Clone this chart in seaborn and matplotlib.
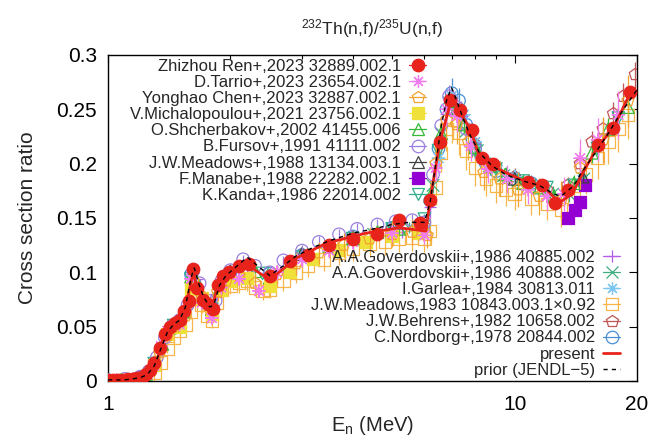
import matplotlib
matplotlib.use("Agg")
import matplotlib.pyplot as plt
import seaborn as sns
from matplotlib.lines import Line2D
from matplotlib.ticker import FixedLocator, FixedFormatter, NullFormatter

# ---------------- data ----------------
ren_E = [1.00, 1.03, 1.06, 1.09, 1.12, 1.15, 1.18, 1.21, 1.24, 1.27, 1.30, 1.34, 1.38, 1.42, 1.46,
         1.50, 1.54, 1.58, 1.62, 1.66, 1.71, 1.76, 1.81, 1.86, 1.92, 1.98, 2.10, 2.22, 2.50, 2.80,
         3.10, 3.50, 4.00, 4.60, 5.20, 5.85, 6.20, 6.55, 6.95, 7.35, 7.85, 8.30, 8.85, 10.8, 11.7,
         12.6, 13.5, 16.0, 17.5, 19.2]
ren_y = [0.001, 0.001, 0.001, 0.001, 0.002, 0.002, 0.003, 0.004, 0.006, 0.010, 0.017, 0.030, 0.043, 0.050, 0.053,
         0.056, 0.064, 0.074, 0.103, 0.086, 0.075, 0.071, 0.066, 0.088, 0.097, 0.100, 0.106, 0.108, 0.097, 0.110,
         0.116, 0.125, 0.131, 0.135, 0.148, 0.145, 0.167, 0.220, 0.259, 0.249, 0.231, 0.205, 0.200, 0.183, 0.180,
         0.164, 0.176, 0.217, 0.233, 0.266]

tarrio_E = [1.05, 1.15, 1.25, 1.3, 1.35, 1.4, 1.5, 1.6, 1.7, 1.8, 1.9, 2.1, 2.35, 2.6, 3.0,
            3.5, 4.0, 5.0, 6.0, 6.4, 6.8, 7.2, 7.8, 8.6, 9.6, 10.8, 12.0, 13.2, 14.5, 16.0, 18.0]
tarrio_y = [0.001, 0.002, 0.006, 0.014, 0.032, 0.046, 0.052, 0.094, 0.072, 0.058, 0.086, 0.094, 0.083, 0.100, 0.112,
            0.120, 0.128, 0.136, 0.134, 0.196, 0.250, 0.244, 0.216, 0.195, 0.186, 0.176, 0.170, 0.172, 0.205, 0.222, 0.245]
tarrio_err = [0.001, 0.001, 0.002, 0.003, 0.004, 0.004, 0.004, 0.006, 0.005, 0.005, 0.006, 0.006, 0.006, 0.007, 0.007,
              0.007, 0.008, 0.008, 0.008, 0.012, 0.015, 0.015, 0.014, 0.013, 0.013, 0.013, 0.014, 0.016, 0.018, 0.020, 0.022]

chen_E = [1.02, 1.12, 1.22, 1.28, 1.34, 1.4, 1.46, 1.55, 1.62, 1.7, 1.78, 1.86, 1.95, 2.1, 2.3,
          2.6, 2.9, 3.3, 3.8, 4.4, 5.0, 5.6, 6.1, 6.4, 6.8, 7.2, 7.7, 8.4, 9.2, 10.2, 11.5, 13.0, 14.5, 16.5, 19.0]
chen_y = [0.000, 0.001, 0.004, 0.010, 0.026, 0.042, 0.050, 0.060, 0.092, 0.078, 0.066, 0.082, 0.092, 0.097, 0.090,
          0.098, 0.108, 0.118, 0.125, 0.131, 0.135, 0.137, 0.134, 0.200, 0.240, 0.236, 0.220, 0.192, 0.186, 0.176,
          0.170, 0.166, 0.196, 0.222, 0.258]
chen_err = [0.001, 0.001, 0.002, 0.003, 0.004, 0.005, 0.005, 0.006, 0.008, 0.007, 0.007, 0.008, 0.008, 0.009, 0.009,
            0.009, 0.010, 0.010, 0.011, 0.011, 0.012, 0.012, 0.012, 0.016, 0.018, 0.018, 0.017, 0.016, 0.016, 0.016,
            0.017, 0.018, 0.019, 0.021, 0.024]

mich_E = [1.3, 1.4, 1.5, 1.6, 1.7, 1.8, 1.9, 2.0, 2.2, 2.5, 2.8, 3.2, 3.7, 4.3, 5.0, 5.8]
mich_y = [0.015, 0.043, 0.050, 0.085, 0.076, 0.062, 0.084, 0.092, 0.095, 0.087, 0.100, 0.112, 0.121, 0.128, 0.133, 0.136]

shch_E = [1.0, 1.08, 1.16, 1.24, 1.3, 1.36, 1.42, 1.48, 1.54, 1.6, 1.65, 1.72, 1.8, 1.88, 1.96,
          2.1, 2.3, 2.5, 2.8, 3.1, 3.5, 4.0, 4.6, 5.2, 5.8, 6.2, 6.6, 7.0, 7.5, 8.0,
          8.7, 9.5, 10.5, 11.5, 12.5, 14.0, 15.5, 17.0, 19.0]
shch_y = [0.001, 0.001, 0.002, 0.006, 0.015, 0.034, 0.049, 0.053, 0.064, 0.096, 0.092, 0.076, 0.066, 0.085, 0.096,
          0.102, 0.101, 0.095, 0.107, 0.116, 0.124, 0.131, 0.137, 0.140, 0.140, 0.170, 0.228, 0.252, 0.236, 0.215,
          0.198, 0.190, 0.182, 0.178, 0.170, 0.182, 0.210, 0.232, 0.252]
shch_err = [0.001, 0.001, 0.001, 0.002, 0.002, 0.003, 0.003, 0.003, 0.003, 0.004, 0.004, 0.003, 0.003, 0.003, 0.004,
            0.004, 0.004, 0.004, 0.004, 0.004, 0.004, 0.005, 0.005, 0.005, 0.005, 0.006, 0.008, 0.009, 0.008, 0.008,
            0.007, 0.007, 0.007, 0.007, 0.007, 0.008, 0.009, 0.010, 0.011]

fursov_E = [1.0, 1.1, 1.2, 1.26, 1.32, 1.38, 1.44, 1.5, 1.57, 1.62, 1.68, 1.76, 1.84, 1.9, 2.0,
            2.15, 2.3, 2.5, 2.7, 3.0, 3.3, 3.7, 4.1, 4.6, 5.1, 5.6, 6.0, 6.3, 6.6, 6.9, 7.2, 7.6, 8.0]
fursov_y = [0.001, 0.002, 0.004, 0.009, 0.022, 0.040, 0.051, 0.056, 0.070, 0.101, 0.090, 0.074, 0.074, 0.092, 0.102,
            0.112, 0.106, 0.100, 0.111, 0.120, 0.128, 0.135, 0.140, 0.144, 0.147, 0.148, 0.146, 0.190, 0.235, 0.262,
            0.252, 0.232, 0.214]
fursov_err = [0.001, 0.001, 0.001, 0.002, 0.002, 0.003, 0.003, 0.003, 0.003, 0.004, 0.004, 0.003, 0.003, 0.004, 0.004,
              0.004, 0.004, 0.004, 0.004, 0.005, 0.005, 0.005, 0.005, 0.005, 0.006, 0.006, 0.006, 0.008, 0.009, 0.010,
              0.010, 0.009, 0.009]

mead88_E = [1.5, 2.0, 3.0, 5.0, 7.0, 10.0, 14.7]
mead88_y = [0.054, 0.101, 0.117, 0.139, 0.258, 0.186, 0.188]
mead88_err = [0.002, 0.003, 0.003, 0.004, 0.006, 0.005, 0.005]

manabe_E = [13.5, 14.1, 14.5, 14.9]
manabe_y = [0.150, 0.157, 0.165, 0.180]

kanda_E = [1.3, 1.45, 1.6, 1.8, 2.0, 2.4, 3.0, 4.0, 5.0, 6.0, 6.5, 7.0, 8.0, 9.0, 10.5, 12.0, 14.0, 16.0, 18.0]
kanda_y = [0.016, 0.051, 0.094, 0.066, 0.098, 0.099, 0.114, 0.131, 0.140, 0.149, 0.212, 0.255, 0.212, 0.195, 0.184,
           0.178, 0.180, 0.214, 0.242]
kanda_err = [0.002, 0.003, 0.004, 0.003, 0.004, 0.004, 0.004, 0.005, 0.005, 0.005, 0.007, 0.008, 0.007, 0.006, 0.006,
             0.006, 0.006, 0.007, 0.008]

gov1_E = [1.15, 1.25, 1.35, 1.45, 1.55, 1.65, 1.75, 1.85, 1.95, 2.2, 2.6, 3.0, 3.6, 4.4, 5.3, 6.2, 6.8, 7.4]
gov1_y = [0.002, 0.006, 0.030, 0.052, 0.066, 0.094, 0.070, 0.080, 0.096, 0.104, 0.100, 0.114, 0.125, 0.133, 0.140,
          0.160, 0.246, 0.244]
gov1_err = [0.001, 0.002, 0.003, 0.004, 0.005, 0.006, 0.005, 0.005, 0.006, 0.006, 0.006, 0.007, 0.007, 0.008, 0.008,
            0.010, 0.014, 0.014]

gov2_E = [4.5, 5.0, 5.5, 6.0, 6.3, 6.6, 6.9, 7.2, 7.6, 8.1, 8.7, 9.4, 10.2, 11.2, 12.4, 13.6, 14.8]
gov2_y = [0.135, 0.139, 0.141, 0.143, 0.180, 0.228, 0.256, 0.250, 0.230, 0.212, 0.198, 0.189, 0.184, 0.180, 0.172,
          0.172, 0.186]
gov2_err = [0.005, 0.005, 0.005, 0.005, 0.007, 0.009, 0.010, 0.010, 0.009, 0.008, 0.008, 0.007, 0.007, 0.007, 0.007,
            0.007, 0.008]

garlea_E = [2.0, 3.0, 4.0, 5.0, 6.0, 6.5, 7.0, 7.5, 8.0, 9.0, 10.0, 14.7]
garlea_y = [0.100, 0.116, 0.130, 0.139, 0.143, 0.205, 0.262, 0.245, 0.220, 0.198, 0.188, 0.185]
garlea_err = [0.004, 0.004, 0.005, 0.005, 0.005, 0.008, 0.010, 0.009, 0.008, 0.007, 0.007, 0.007]

mead83_E = [1.0, 1.05, 1.1, 1.15, 1.2, 1.25, 1.3, 1.35, 1.4, 1.45, 1.5, 1.55, 1.6, 1.65, 1.7,
            1.75, 1.8, 1.85, 1.9, 2.0, 2.1, 2.2, 2.3, 2.4, 2.5, 2.7, 2.9, 3.1, 3.4, 3.7,
            4.0, 4.4, 4.8, 5.2, 5.6, 6.0, 6.2, 6.4, 6.6, 6.8, 7.0, 7.3, 7.6, 8.0, 8.5,
            9.0, 9.5, 10.0, 11.0, 12.0, 13.0, 14.0, 15.0, 16.0, 17.0, 18.0, 19.0]
mead83_y = [0.000, 0.000, 0.001, 0.001, 0.002, 0.004, 0.008, 0.017, 0.030, 0.040, 0.046, 0.052, 0.064, 0.080, 0.070,
            0.060, 0.055, 0.072, 0.084, 0.088, 0.090, 0.092, 0.086, 0.083, 0.084, 0.092, 0.100, 0.106, 0.112, 0.118,
            0.122, 0.126, 0.128, 0.131, 0.132, 0.131, 0.138, 0.178, 0.210, 0.232, 0.240, 0.228, 0.212, 0.196, 0.186,
            0.180, 0.176, 0.172, 0.168, 0.163, 0.158, 0.168, 0.190, 0.205, 0.220, 0.232, 0.245]
mead83_err = [0.001, 0.001, 0.001, 0.001, 0.001, 0.002, 0.002, 0.003, 0.004, 0.005, 0.005, 0.006, 0.007, 0.008, 0.007,
              0.007, 0.006, 0.007, 0.008, 0.008, 0.009, 0.009, 0.008, 0.008, 0.008, 0.009, 0.010, 0.010, 0.011, 0.011,
              0.012, 0.012, 0.012, 0.012, 0.012, 0.012, 0.013, 0.016, 0.018, 0.020, 0.021, 0.020, 0.018, 0.017, 0.016,
              0.016, 0.015, 0.015, 0.015, 0.015, 0.016, 0.016, 0.018, 0.019, 0.020, 0.021, 0.022]

behrens_E = [1.3, 1.5, 1.7, 2.0, 2.5, 3.0, 4.0, 5.0, 6.0, 7.0, 8.0, 10.0, 12.0, 13.5, 14.5, 15.5, 16.5, 17.5, 18.5, 19.8]
behrens_y = [0.017, 0.055, 0.078, 0.100, 0.097, 0.116, 0.132, 0.140, 0.142, 0.258, 0.218, 0.188, 0.176, 0.180, 0.200,
             0.220, 0.232, 0.246, 0.262, 0.282]
behrens_err = [0.002, 0.003, 0.004, 0.004, 0.004, 0.005, 0.005, 0.006, 0.006, 0.010, 0.009, 0.008, 0.008, 0.008, 0.009,
               0.010, 0.010, 0.011, 0.012, 0.012]

nord_E = [1.2, 1.4, 1.6, 1.8, 2.0, 2.5, 3.0, 4.0, 5.0, 5.8, 6.2, 6.5, 6.8, 7.0, 7.3, 7.6, 8.0, 8.5, 9.0, 10.0, 11.0]
nord_y = [0.003, 0.044, 0.098, 0.068, 0.099, 0.099, 0.116, 0.133, 0.141, 0.143, 0.166, 0.214, 0.250, 0.265, 0.258,
          0.236, 0.214, 0.200, 0.193, 0.186, 0.182]
nord_err = [0.001, 0.003, 0.005, 0.004, 0.005, 0.005, 0.005, 0.006, 0.006, 0.006, 0.008, 0.010, 0.012, 0.014, 0.012,
            0.011, 0.010, 0.009, 0.009, 0.008, 0.008]

present_E = [1.0, 1.1, 1.2, 1.25, 1.32, 1.37, 1.42, 1.5, 1.56, 1.62, 1.66, 1.80, 1.85, 1.92, 2.03, 2.2, 2.5, 2.9,
             3.45, 4.3, 5.2, 6.05, 6.2, 6.55, 7.0, 7.3, 7.8, 8.2, 8.9, 10.7, 11.7, 12.9, 13.9, 14.7, 15.9, 17.5, 19.3]
present_y = [0.001, 0.001, 0.003, 0.007, 0.019, 0.041, 0.050, 0.053, 0.072, 0.100, 0.084, 0.064, 0.085, 0.095, 0.102,
             0.107, 0.093, 0.113, 0.127, 0.136, 0.141, 0.138, 0.167, 0.220, 0.260, 0.249, 0.231, 0.206, 0.197, 0.183,
             0.180, 0.164, 0.173, 0.191, 0.214, 0.233, 0.266]

prior_E = [1.0, 1.1, 1.2, 1.25, 1.3, 1.35, 1.4, 1.45, 1.5, 1.55, 1.6, 1.63, 1.67, 1.72, 1.78, 1.82, 1.88, 1.95,
           2.05, 2.2, 2.35, 2.5, 2.7, 2.9, 3.2, 3.5, 4.0, 4.5, 5.0, 5.5, 6.0, 6.2, 6.4, 6.6, 6.8, 7.0, 7.2, 7.5,
           7.8, 8.2, 8.8, 9.5, 10.5, 11.5, 12.5, 13.0, 13.5, 14.0, 14.5, 15.0, 16.0, 17.0, 18.0, 19.0, 20.0]
prior_y = [0.001, 0.001, 0.003, 0.006, 0.014, 0.030, 0.045, 0.052, 0.056, 0.068, 0.095, 0.104, 0.090, 0.077, 0.068,
           0.070, 0.088, 0.097, 0.104, 0.114, 0.105, 0.097, 0.106, 0.115, 0.123, 0.129, 0.136, 0.140, 0.144, 0.146,
           0.146, 0.165, 0.200, 0.235, 0.258, 0.270, 0.258, 0.240, 0.225, 0.210, 0.198, 0.190, 0.184, 0.180, 0.172,
           0.170, 0.175, 0.180, 0.190, 0.198, 0.213, 0.228, 0.243, 0.256, 0.268]

x_ticks = [1, 10, 20]
x_ticklabels = ["1", "10", "20"]
x_minor = [2, 3, 4, 5, 6, 7, 8, 9]
y_ticks = [0, 0.05, 0.1, 0.15, 0.2, 0.25, 0.3]
y_ticklabels = ["0", "0.05", "0.1", "0.15", "0.2", "0.25", "0.3"]

# ---------------- styling table ----------------
datasets = [
    ("Zhizhou Ren+,2023 32889.002.1", ren_E, ren_y, None, "o", "#e8231c", True),
    ("D.Tarrio+,2023 23654.002.1", tarrio_E, tarrio_y, tarrio_err, (8, 2, 0), "#f07cf0", False),
    ("Yonghao Chen+,2023 32887.002.1", chen_E, chen_y, chen_err, "p", "#f2a22e", False),
    ("V.Michalopoulou+,2021 23756.002.1", mich_E, mich_y, None, "s", "#efe03a", True),
    ("O.Shcherbakov+,2002 41455.006", shch_E, shch_y, shch_err, "^", "#36b836", False),
    ("B.Fursov+,1991 41111.002", fursov_E, fursov_y, fursov_err, "o", "#9b7fe0", False),
    ("J.W.Meadows+,1988 13134.003.1", mead88_E, mead88_y, mead88_err, "^", "#404040", False),
    ("F.Manabe+,1988 22282.002.1", manabe_E, manabe_y, None, "s", "#9400d3", True),
    ("K.Kanda+,1986 22014.002", kanda_E, kanda_y, kanda_err, "v", "#2fae8c", False),
    ("A.A.Goverdovskii+,1986 40885.002", gov1_E, gov1_y, gov1_err, "+", "#b45ee8", False),
    ("A.A.Goverdovskii+,1986 40888.002", gov2_E, gov2_y, gov2_err, "x", "#3fae7e", False),
    ("I.Garlea+,1984 30813.011", garlea_E, garlea_y, garlea_err, (8, 2, 0), "#7cc6f0", False),
    ("J.W.Meadows,1983 10843.003.1×0.92", mead83_E, mead83_y, mead83_err, "s", "#f7b54a", False),
    ("J.W.Behrens+,1982 10658.002", behrens_E, behrens_y, behrens_err, "p", "#c05555", False),
    ("C.Nordborg+,1978 20844.002", nord_E, nord_y, nord_err, "o", "#4a8fd4", False),
]

sns.set_theme(style="white")
plt.rcParams['font.family'] = ['Liberation Sans', 'DejaVu Sans']
plt.rcParams['mathtext.default'] = 'regular'

fig = plt.figure(figsize=(6.59, 4.43), dpi=100)
ax = fig.add_axes([108 / 659, 1 - 381 / 443, (637 - 108) / 659, (381 - 55) / 443])

ms_pt = 9.0
handles = []
for i, (label, E, y, err, mk, col, filled) in enumerate(datasets):
    z = 3 + (len(datasets) - i) * 0.1
    if err is not None:
        ax.errorbar(E, y, yerr=err, fmt='none', ecolor=col, elinewidth=0.9, capsize=0, zorder=z)
    sns.scatterplot(x=E, y=y, marker=mk, s=ms_pt ** 2, color=col, linewidth=0.9,
                    ax=ax, zorder=z + 0.05, legend=False)
    coll = ax.collections[-1]
    if filled:
        coll.set_facecolor(col)
        coll.set_edgecolor(col)
    else:
        coll.set_facecolor('none')
        coll.set_edgecolor(col)
    coll.set_linewidth(0.9)
    handles.append(Line2D([], [], color=col, lw=0.9, marker=mk, ms=ms_pt,
                          mfc=(col if filled else 'none'), mec=col, mew=0.9, label=label))

sns.lineplot(x=present_E, y=present_y, color="#e8231c", lw=2.0, sort=False, estimator=None,
             ax=ax, zorder=10)
sns.lineplot(x=prior_E, y=prior_y, color="black", lw=1.0, sort=False, estimator=None,
             ax=ax, zorder=11, linestyle=(0, (3, 3)))
handles.append(Line2D([], [], color="#e8231c", lw=2.0, label="present"))
handles.append(Line2D([], [], color="black", lw=1.0, linestyle=(0, (3, 3)), label="prior (JENDL\u22125)"))

ax.set_xscale('log')
ax.set_xlim(1, 20)
ax.set_ylim(0, 0.3)
ax.xaxis.set_major_locator(FixedLocator(x_ticks))
ax.xaxis.set_major_formatter(FixedFormatter(x_ticklabels))
ax.xaxis.set_minor_locator(FixedLocator(x_minor))
ax.xaxis.set_minor_formatter(NullFormatter())
ax.yaxis.set_major_locator(FixedLocator(y_ticks))
ax.yaxis.set_major_formatter(FixedFormatter(y_ticklabels))
ax.tick_params(which='both', direction='in', top=True, right=True, colors='black')
ax.tick_params(which='major', length=6, width=0.8, labelsize=15)
ax.tick_params(axis='x', which='major', pad=10)
ax.tick_params(axis='y', which='major', pad=8)
ax.tick_params(which='minor', length=3, width=0.8)
for s in ax.spines.values():
    s.set_color('black')
    s.set_linewidth(1.0)

ax.set_xlabel("E$_{n}$ (MeV)", fontsize=14.5, labelpad=0)
ax.set_ylabel("Cross section ratio", fontsize=15, labelpad=14)
ax.set_title("$^{232}$Th(n,f)/$^{235}$U(n,f)", fontsize=12.5, pad=15)

leg_kw = dict(frameon=False, markerfirst=False, fontsize=12, handlelength=1.0,
              handletextpad=0.5, labelspacing=0.065, borderpad=0.0, borderaxespad=0.0,
              loc='upper right')
leg1 = ax.legend(handles=handles[:9], bbox_to_anchor=(426 / 659, 1 - 59 / 443),
                 bbox_transform=fig.transFigure, **leg_kw)
ax.add_artist(leg1)
leg2 = ax.legend(handles=handles[9:], bbox_to_anchor=(620 / 659, 1 - 250 / 443),
                 bbox_transform=fig.transFigure, **leg_kw)
for lg in (leg1, leg2):
    lg.set_zorder(20)

fig.savefig("out.png", dpi=100)
